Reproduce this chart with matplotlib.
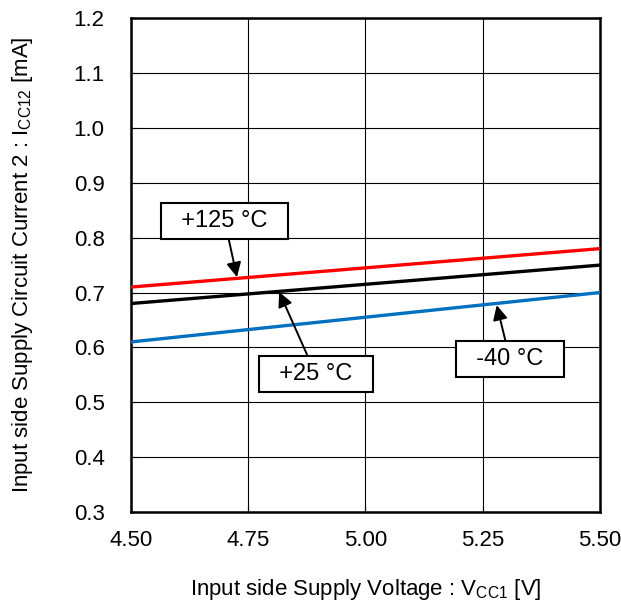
import matplotlib.pyplot as plt

plt.rcParams['font.family'] = ['Liberation Sans', 'DejaVu Sans']
plt.rcParams['mathtext.fontset'] = 'custom'
plt.rcParams['mathtext.rm'] = 'Liberation Sans'
plt.rcParams['mathtext.it'] = 'Liberation Sans:italic'

# Data
vcc = [4.50, 5.50]
icc_125 = [0.71, 0.78]
icc_25 = [0.68, 0.75]
icc_m40 = [0.61, 0.70]

fig = plt.figure(figsize=(6.21, 6.07), dpi=100)
ax = fig.add_axes([0.211, 0.1565, 0.755, 0.8135])

ax.plot(vcc, icc_125, color='#FF0000', lw=2.4, zorder=3)
ax.plot(vcc, icc_25, color='#000000', lw=2.4, zorder=3)
ax.plot(vcc, icc_m40, color='#0070C0', lw=2.4, zorder=3)

ax.set_xlim(4.5, 5.5)
ax.set_ylim(0.3, 1.2)
ax.set_xticks([4.5, 4.75, 5.0, 5.25, 5.5])
ax.set_xticklabels(['4.50', '4.75', '5.00', '5.25', '5.50'])
ax.set_yticks([0.3 + 0.1 * i for i in range(10)])
ax.set_yticklabels(['%.1f' % (0.3 + 0.1 * i) for i in range(10)])
ax.tick_params(labelsize=16, direction='in', length=4, width=0.8)
ax.tick_params(axis='x', pad=13)
ax.tick_params(axis='y', pad=19)
ax.grid(True, color='black', lw=0.8)
for s in ax.spines.values():
    s.set_linewidth(1.8)

ax.set_xlabel(r'Input side Supply Voltage : V$_{\mathrm{CC1}}$ [V]', fontsize=16, labelpad=19)
ax.set_ylabel(r'Input side Supply Circuit Current 2 : I$_{\mathrm{CC12}}$ [mA]', fontsize=16, labelpad=28)

box = dict(boxstyle='square,pad=0.3', fc='white', ec='black', lw=1.5)
arr = dict(arrowstyle='-|>', color='black', lw=1.4, mutation_scale=22, shrinkA=0, shrinkB=0)

ax.annotate('  +125 °C  ', xy=(4.726, 0.728), xytext=(4.700, 0.830), fontsize=17,
            ha='center', va='center', bbox=box, arrowprops=arr, zorder=5)
ax.annotate('  +25 °C  ', xy=(4.816, 0.701), xytext=(4.894, 0.551), fontsize=17,
            ha='center', va='center', bbox=box, arrowprops=arr, zorder=5)
ax.annotate('  -40 °C  ', xy=(5.280, 0.677), xytext=(5.308, 0.579), fontsize=17,
            ha='center', va='center', bbox=box, arrowprops=arr, zorder=5)

fig.savefig('out.png', dpi=100)
